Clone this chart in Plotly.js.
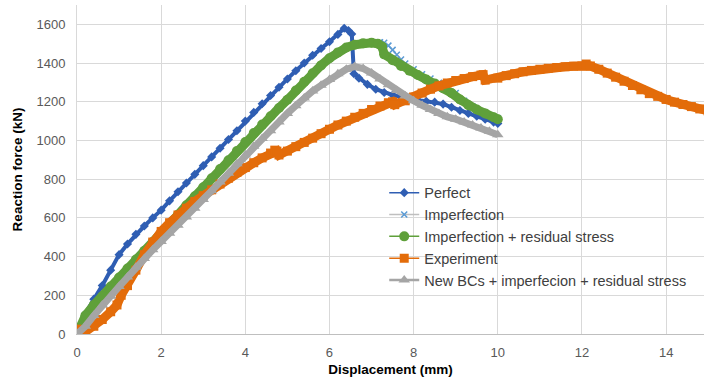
<!DOCTYPE html>
<html><head><meta charset="utf-8">
<script src="https://cdn.plot.ly/plotly-3.0.1.min.js"></script>
<style>html,body{margin:0;padding:0;background:#fff}#chart{width:704px;height:385px}</style>
</head><body><div id="chart"></div>
<script>
// Perfect
const perfectX = [0,0.2,0.4,0.6,0.8,1.0,1.2,1.4,1.6,1.8,2.0,2.2,2.4,2.6,2.8,3.0,3.2,3.4,3.6,3.8,4.0,4.2,4.4,4.6,4.8,5.0,5.2,5.4,5.6,5.8,6.0,6.2,6.35,6.45,6.53,6.58,6.7,6.9,7.1,7.3,7.5,7.7,7.9,8.1,8.3,8.5,8.7,8.9,9.1,9.3,9.5,9.7,9.9,10.0];
const perfectY = [0,105,180,250,330,410,465,515,558,600,640,688,735,780,825,870,915,960,1005,1050,1100,1145,1190,1232,1275,1318,1360,1400,1440,1475,1510,1548,1580,1568,1550,1345,1322,1290,1265,1248,1235,1225,1215,1208,1203,1198,1188,1172,1155,1140,1125,1110,1095,1088];
// Imperfection
const imperfX = [0,0.2,0.4,0.6,0.8,1.0,1.2,1.4,1.6,1.8,2.0,2.2,2.4,2.6,2.8,3.0,3.2,3.4,3.6,3.8,4.0,4.2,4.4,4.6,4.8,5.0,5.2,5.4,5.6,5.8,6.0,6.2,6.4,6.6,6.8,7.0,7.2,7.3,7.4,7.5,7.6,7.7,7.8,8.0,8.2,8.4,8.6,8.8,9.0,9.2,9.4,9.6,9.8,10.0];
const imperfY = [0,95,150,195,245,292,338,385,430,475,520,568,616,665,712,758,805,852,898,945,992,1038,1082,1125,1168,1210,1258,1303,1347,1388,1425,1455,1480,1495,1503,1505,1508,1505,1490,1468,1443,1418,1398,1368,1342,1320,1298,1275,1245,1205,1175,1150,1130,1115];
// Imperfection + residual stress
const resX = [0,0.2,0.4,0.6,0.8,1.0,1.2,1.4,1.6,1.8,2.0,2.2,2.4,2.6,2.8,3.0,3.2,3.4,3.6,3.8,4.0,4.2,4.4,4.6,4.8,5.0,5.2,5.4,5.6,5.8,6.0,6.2,6.4,6.6,6.8,7.0,7.15,7.25,7.3,7.5,7.7,7.9,8.1,8.3,8.5,8.7,8.9,9.1,9.3,9.5,9.7,9.9,10.0];
const resY = [0,95,150,195,245,292,338,385,430,475,520,568,616,665,712,758,805,852,898,945,992,1038,1082,1125,1168,1210,1258,1303,1347,1388,1425,1455,1480,1495,1503,1505,1500,1485,1445,1415,1385,1360,1338,1315,1295,1270,1245,1212,1182,1160,1140,1120,1110];
// Experiment
const expX = [0,0.1,0.2,0.4,0.6,0.8,0.95,1.05,1.2,1.4,1.6,1.8,2.0,2.2,2.4,2.6,2.8,3.0,3.2,3.4,3.6,3.8,4.0,4.2,4.4,4.6,4.7,4.75,4.8,5.0,5.2,5.4,5.6,5.8,6.0,6.2,6.4,6.6,6.8,7.0,7.2,7.4,7.5,7.55,7.8,8.0,8.2,8.4,8.6,8.8,9.0,9.2,9.4,9.6,9.65,9.7,10.0,10.2,10.4,10.6,10.8,11.0,11.2,11.4,11.6,11.8,12.0,12.1,12.2,12.4,12.6,12.8,13.0,13.2,13.4,13.6,13.8,14.0,14.2,14.4,14.6,14.8,15.0];
const expY = [25,10,12,40,75,115,150,200,250,330,410,475,530,575,615,650,685,715,745,775,805,835,860,885,910,935,950,945,925,945,968,990,1012,1035,1058,1080,1100,1120,1140,1160,1178,1195,1200,1185,1205,1225,1245,1265,1282,1297,1310,1320,1330,1338,1340,1312,1322,1335,1345,1355,1362,1368,1373,1377,1381,1384,1386,1395,1385,1368,1348,1327,1306,1284,1262,1242,1228,1212,1198,1186,1175,1163,1152];
// New BCs + imperfecion + residual stress
const newbcX = [0,0.2,0.4,0.6,0.8,1.0,1.2,1.4,1.6,1.8,2.0,2.2,2.4,2.6,2.8,3.0,3.2,3.4,3.6,3.8,4.0,4.2,4.4,4.6,4.8,5.0,5.2,5.4,5.6,5.8,6.0,6.2,6.4,6.6,6.8,7.0,7.2,7.4,7.6,7.8,8.0,8.2,8.4,8.6,8.8,9.0,9.2,9.4,9.6,9.8,10.0];
const newbcY = [0,40,95,150,195,245,295,345,390,435,478,520,562,605,650,695,740,785,830,880,925,970,1010,1050,1095,1140,1180,1220,1255,1285,1315,1345,1368,1382,1372,1348,1318,1288,1258,1230,1205,1182,1160,1140,1122,1110,1095,1080,1065,1048,1030];

const seriesNames = ['Perfect','Imperfection','Imperfection + residual stress','Experiment','New BCs + imperfecion + residual stress'];
const xTickVals = [0,2,4,6,8,10,12,14];
const yTickVals = [0,200,400,600,800,1000,1200,1400,1600];

const specs = [
  {x: perfectX, y: perfectY, lc: '#2F5EB3', mc: '#2F5EB3', sym: 'diamond', ms: 7, band: 4, lw: 1.5},
  {x: imperfX, y: imperfY, lc: '#BFBFBF', mc: '#5B9BD5', sym: 'x-thin', ms: 6, band: 0, lw: 1.5},
  {x: resX, y: resY, lc: '#5FA03A', mc: '#5FA03A', sym: 'circle', ms: 10, band: 9, lw: 1.5},
  {x: expX, y: expY, lc: '#E36C0A', mc: '#E36C0A', sym: 'square', ms: 9, band: 9, lw: 1.5},
  {x: newbcX, y: newbcY, lc: '#A5A5A5', mc: '#A5A5A5', sym: 'triangle-up', ms: 10, band: 7, lw: 2.5}
];

const traces = [];
specs.forEach((s, i) => {
  if (s.band > 0) {
    traces.push({x: s.x, y: s.y, type: 'scatter', mode: 'lines', showlegend: false, hoverinfo: 'skip',
      line: {color: s.lc, width: s.band}, legendgroup: 'g' + i});
  }
  traces.push({x: s.x, y: s.y, type: 'scatter', mode: 'lines+markers', name: seriesNames[i], legendgroup: 'g' + i,
    line: {color: s.lc, width: s.lw},
    marker: {symbol: s.sym, size: s.ms, color: s.mc, line: {color: s.mc, width: s.sym === 'x-thin' ? 1.5 : 0}}});
});

const layout = {
  width: 704, height: 385,
  margin: {l: 77, r: 0, t: 5, b: 51},
  paper_bgcolor: '#fff', plot_bgcolor: '#fff',
  font: {family: 'Liberation Sans, Arial, sans-serif', size: 13, color: '#404040'},
  showlegend: true,
  legend: {x: 0.49, y: 0.478, xanchor: 'left', yanchor: 'top', bgcolor: 'rgba(0,0,0,0)',
    font: {size: 14.5, color: '#404040'}, tracegroupgap: 0, itemwidth: 30},
  xaxis: {range: [0, 14.9], tickvals: xTickVals, ticktext: xTickVals.map(String), showgrid: true, gridcolor: '#D9D9D9', gridwidth: 1,
    zeroline: false, showline: true, linecolor: '#BFBFBF', linewidth: 1, ticks: '', ticklabelstandoff: 6,
    tickfont: {size: 13, color: '#595959'},
    title: {text: 'Displacement (mm)', font: {size: 13.5, color: '#000', weight: 'bold'}, standoff: 5}},
  yaxis: {range: [0, 1700], tickvals: yTickVals, ticktext: yTickVals.map(String), showgrid: true, gridcolor: '#D9D9D9', gridwidth: 1,
    zeroline: false, showline: true, linecolor: '#D9D9D9', linewidth: 1, ticks: '', ticklabelstandoff: 8,
    tickfont: {size: 13, color: '#595959'},
    title: {text: 'Reaction force (kN)', font: {size: 13.5, color: '#000', weight: 'bold'}, standoff: 10}}
};

Plotly.newPlot('chart', traces, layout, {displayModeBar: false, staticPlot: true});
</script></body></html>
